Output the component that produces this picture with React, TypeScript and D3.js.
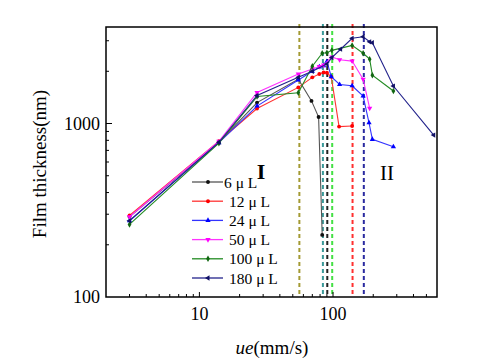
import React, { useEffect, useRef } from 'react';
import * as d3 from 'd3';

// speed (mm/s) and film thickness (nm) per droplet volume
const labels = ['6 μ L', '12 μ L', '24 μ L', '50 μ L', '100 μ L', '180 μ L'];
const colors = ['#555555', '#ff3333', '#3333ff', '#ff33ff', '#228b22', '#22228b'];
const markerColors = ['#111111', '#ff0000', '#0000ff', '#ff00ff', '#116611', '#111166'];
const symbols = [d3.symbolCircle, d3.symbolCircle, d3.symbolTriangle, d3.symbolTriangle, d3.symbolDiamond, d3.symbolTriangle];

const s6 = [[3, 290], [14, 780], [27, 1320], [55, 1800], [69, 1350], [78, 1090], [83, 228]];
const s12 = [[3, 295], [14, 790], [27, 1220], [55, 1615], [70, 1845], [79, 1930], [85, 1970], [90, 1960], [97, 1860], [111, 960], [139, 967]];
const s24 = [[3, 275], [14, 775], [27, 1260], [55, 1780], [70, 2000], [79, 2120], [85, 2150], [90, 2280], [97, 1860], [112, 1680], [139, 1650], [168, 1440], [186, 1010], [197, 810], [283, 735]];
const s50 = [[3, 290], [14, 790], [27, 1510], [55, 1930], [70, 2060], [79, 2130], [85, 2170], [98, 2420], [112, 2330], [139, 2290], [168, 1800], [188, 1225]];
const s100 = [[3, 262], [14, 770], [27, 1430], [55, 1505], [70, 2140], [83, 2540], [90, 2560], [98, 2640], [139, 2820], [168, 2540], [188, 2350], [197, 1900], [283, 1540]];
const s180 = [[3, 275], [14, 780], [27, 1450], [55, 1845], [70, 2000], [90, 2200], [98, 2400], [114, 2680], [139, 3100], [168, 3165], [188, 2958], [197, 2922], [283, 1644], [567, 858]];
const series = [s6, s12, s24, s50, s100, s180];

// transition speeds marked with dashed lines
const transitions = [56, 84, 90.6, 98.6, 140, 170];
const transitionColors = ['#a39a33', '#3a9a9a', '#222222', '#44e044', '#ff3030', '#2a2aa0'];

const xTicks = [10, 100];
const yTicks = [100, 1000];

const App = () => {
  const svgRef = useRef(null);

  useEffect(() => {
    const svg = d3.select(svgRef.current);
    svg.selectAll('*').remove();
    const left = 106, right = 437, top = 27, bottom = 297;
    const x = d3.scaleLog().domain([2, 600]).range([left, right]);
    const y = d3.scaleLog().domain([100, 3600]).range([bottom, top]);
    const font = '"Liberation Serif", "DejaVu Serif", serif';

    // dashed lines
    svg.selectAll('line.tr')
      .data(transitions)
      .join('line')
      .attr('x1', d => x(d)).attr('x2', d => x(d))
      .attr('y1', top - 3).attr('y2', bottom)
      .attr('stroke', (d, i) => transitionColors[i])
      .attr('stroke-width', 2)
      .attr('stroke-dasharray', '4,3');

    const line = d3.line().x(d => x(d[0])).y(d => y(d[1]));

    series.forEach((s, i) => {
      svg.append('path')
        .attr('d', line(s))
        .attr('fill', 'none')
        .attr('stroke', colors[i])
        .attr('stroke-width', 1.1);
      svg.selectAll(null)
        .data(s)
        .join('path')
        .attr('d', d3.symbol().type(symbols[i]).size(12))
        .attr('transform', d => `translate(${x(d[0])},${y(d[1])})` + (i === 3 ? ' rotate(180)' : i === 5 ? ' rotate(-90)' : ''))
        .attr('fill', markerColors[i]);
    });

    // frame
    svg.append('rect')
      .attr('x', left).attr('y', top)
      .attr('width', right - left).attr('height', bottom - top)
      .attr('fill', 'none').attr('stroke', '#000').attr('stroke-width', 1.5);

    svg.append('g').selectAll('line')
      .data(x.ticks().filter(t => t > 2 && t < 600))
      .join('line')
      .attr('x1', d => x(d)).attr('x2', d => x(d))
      .attr('y1', bottom).attr('y2', d => bottom - (xTicks.includes(d) ? 5 : 3))
      .attr('stroke', '#000').attr('stroke-width', 1);
    svg.append('g').selectAll('text')
      .data(xTicks)
      .join('text')
      .attr('x', d => x(d)).attr('y', bottom + 23)
      .attr('text-anchor', 'middle')
      .attr('font-family', font).attr('font-size', 18)
      .text(d => d);

    svg.append('g').selectAll('line')
      .data(y.ticks().filter(t => t > 100 && t < 3600))
      .join('line')
      .attr('y1', d => y(d)).attr('y2', d => y(d))
      .attr('x1', left).attr('x2', d => left + (yTicks.includes(d) ? 6 : 3))
      .attr('stroke', '#000').attr('stroke-width', 1);
    svg.append('g').selectAll('text')
      .data(yTicks)
      .join('text')
      .attr('x', left - 6).attr('y', d => y(d) + 6)
      .attr('text-anchor', 'end')
      .attr('font-family', font).attr('font-size', 18)
      .text(d => d);

    svg.append('text')
      .attr('transform', `translate(46,${(top + bottom) / 2 + 2}) rotate(-90)`)
      .attr('text-anchor', 'middle')
      .attr('font-family', font).attr('font-size', 19)
      .text('Film thickness(nm)');

    const xl = svg.append('text')
      .attr('x', 272).attr('y', 354)
      .attr('text-anchor', 'middle')
      .attr('font-family', font).attr('font-size', 19);
    xl.append('tspan').attr('font-style', 'italic').text('ue');
    xl.append('tspan').text('(mm/s)');

    svg.append('text').attr('x', 261).attr('y', 179).attr('text-anchor', 'middle')
      .attr('font-family', font).attr('font-size', 22).attr('font-weight', 'bold').text('I');
    svg.append('text').attr('x', 387).attr('y', 180).attr('text-anchor', 'middle')
      .attr('font-family', font).attr('font-size', 21).text('II');

    // legend
    const lg = svg.append('g');
    labels.forEach((l, i) => {
      const ly = 182 + i * 19.2;
      lg.append('line').attr('x1', 192).attr('x2', 223).attr('y1', ly).attr('y2', ly)
        .attr('stroke', colors[i]).attr('stroke-width', 1.3);
      lg.append('path')
        .attr('d', d3.symbol().type(symbols[i]).size(12))
        .attr('transform', `translate(208,${ly})` + (i === 3 ? ' rotate(180)' : i === 5 ? ' rotate(-90)' : ''))
        .attr('fill', markerColors[i]);
      lg.append('text').attr('x', i === 0 ? 224 : 229).attr('y', ly + 5.5)
        .attr('font-family', font).attr('font-size', 15.5).text(l);
    });
  }, []);

  return (
    <div>
      <svg ref={svgRef} width={480} height={360} style={{ position: 'absolute', left: 0, top: 0, background: '#fff' }}></svg>
    </div>
  );
};

export default App;
